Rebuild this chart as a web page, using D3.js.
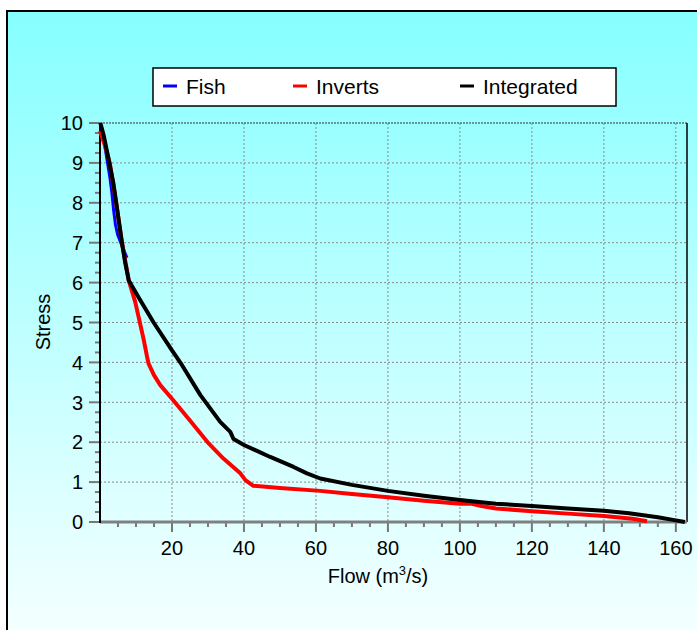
<!DOCTYPE html>
<html>
<head>
<meta charset="utf-8">
<script src="https://cdn.jsdelivr.net/npm/d3@7"></script>
<style>
    body { margin: 0; background: #fff; }
    text { font-family: Arial, "Liberation Sans", sans-serif; fill: #000; }
</style>
</head>
<body>
<div id="chart"></div>
<script>
// Stress vs flow curves (flow in m3/s, stress 0-10)
const fishFlow   = [0.3, 1.2, 2.1, 2.8, 3.3, 3.8, 4.3, 4.9, 6.2, 7.5];
const fishStress = [9.85, 9.5, 9.0, 8.6, 8.25, 7.8, 7.45, 7.2, 6.9, 6.62];

const invertsFlow   = [0, 1.5, 2.7, 4.5, 6.1, 8, 9.8, 12.1, 13.1, 13.5, 15, 16.75, 20, 24.6, 30.2, 34.3, 39, 40.4, 42.5, 50, 61.2,
                       70, 80, 90, 100, 103, 106, 110, 120, 130, 140, 148, 152];
const invertsStress = [9.8, 9.4, 9.0, 8.0, 7.0, 6.05, 5.51, 4.59, 4.13, 3.97, 3.68, 3.43, 3.09, 2.59, 1.97, 1.59, 1.22, 1.05, 0.91, 0.85, 0.78,
                       0.7, 0.62, 0.53, 0.46, 0.46, 0.4, 0.34, 0.27, 0.21, 0.15, 0.08, 0.02];

const integratedFlow   = [0.1, 1, 2.6, 3.7, 4.5, 5.3, 6.1, 7, 8, 11.2, 14.9, 20, 22.8, 27.9, 33.4, 36.2, 37.1, 40, 47.3, 53.8,
                          57.5, 61.2, 70, 80, 90, 100, 110, 120, 130, 140, 147, 155, 160, 162.5];
const integratedStress = [10, 9.7, 9.0, 8.5, 8.0, 7.5, 7.0, 6.5, 6.05, 5.56, 5.0, 4.3, 3.93, 3.18, 2.51, 2.26, 2.08, 1.93, 1.63, 1.38,
                          1.22, 1.09, 0.93, 0.78, 0.66, 0.55, 0.46, 0.4, 0.34, 0.28, 0.22, 0.12, 0.04, 0];

const seriesNames  = ['Fish', 'Inverts', 'Integrated'];
const seriesColors = ['#0000ff', '#ff0000', '#000000'];

const xTicks = [20, 40, 60, 80, 100, 120, 140, 160];
const yTicks = [0, 1, 2, 3, 4, 5, 6, 7, 8, 9, 10];

class StressVis {
    constructor(parentElement) {
        this.parentElement = parentElement;
        this.initVis();
    }

    initVis() {
        let vis = this;

        const width = 697;
        const height = 630;

        vis.svg = d3.select('#' + vis.parentElement)
            .append('svg')
            .attr('width', width)
            .attr('height', height);

        // background gradient
        let grad = vis.svg.append('defs').append('linearGradient')
            .attr('id', 'bg').attr('x1', 0).attr('y1', 0).attr('x2', 0).attr('y2', 1);
        grad.append('stop').attr('offset', '0%').attr('stop-color', '#86ffff');
        grad.append('stop').attr('offset', '100%').attr('stop-color', '#f8ffff');

        vis.svg.append('rect')
            .attr('x', 7).attr('y', 11)
            .attr('width', 700).attr('height', 640)
            .attr('fill', 'url(#bg)')
            .attr('stroke', '#000')
            .attr('stroke-width', 2);

        // plot area
        vis.left = 100; vis.right = 687; vis.top = 123; vis.bottom = 522;

        vis.x = d3.scaleLinear().domain([0, 163.1]).range([vis.left, vis.right]);
        vis.y = d3.scaleLinear().domain([0, 10]).range([vis.bottom, vis.top]);

        // gridlines
        vis.svg.append('g').selectAll('line')
            .data(xTicks).join('line')
            .attr('x1', d => vis.x(d)).attr('x2', d => vis.x(d))
            .attr('y1', vis.top).attr('y2', vis.bottom)
            .attr('stroke', '#8a8a8a').attr('stroke-width', 1)
            .attr('stroke-dasharray', '2,2');

        vis.svg.append('g').selectAll('line')
            .data(yTicks.filter(d => d > 0 && d < 10)).join('line')
            .attr('x1', vis.left).attr('x2', vis.right)
            .attr('y1', d => vis.y(d)).attr('y2', d => vis.y(d))
            .attr('stroke', '#8a8a8a').attr('stroke-width', 1)
            .attr('stroke-dasharray', '2,2');

        // top (dotted) and right borders
        vis.svg.append('line')
            .attr('x1', vis.left).attr('x2', vis.right)
            .attr('y1', vis.top).attr('y2', vis.top)
            .attr('stroke', '#333').attr('stroke-width', 1.2)
            .attr('stroke-dasharray', '2,1');
        vis.svg.append('line')
            .attr('x1', vis.right).attr('x2', vis.right)
            .attr('y1', vis.top).attr('y2', vis.bottom)
            .attr('stroke', '#000').attr('stroke-width', 1.5);

        // y axis ticks (major + minor)
        let yMinor = d3.range(0, 10.01, 0.25).filter(d => d % 1 !== 0);
        vis.svg.append('g').selectAll('line')
            .data(yMinor).join('line')
            .attr('x1', vis.left - 5).attr('x2', vis.left)
            .attr('y1', d => vis.y(d)).attr('y2', d => vis.y(d))
            .attr('stroke', '#777').attr('stroke-width', 2);
        vis.svg.append('g').selectAll('line')
            .data(yTicks).join('line')
            .attr('x1', vis.left - 11).attr('x2', vis.left)
            .attr('y1', d => vis.y(d)).attr('y2', d => vis.y(d))
            .attr('stroke', '#777').attr('stroke-width', 2);
        vis.svg.append('g').selectAll('text')
            .data(yTicks).join('text')
            .attr('x', 83)
            .attr('y', d => vis.y(d))
            .attr('dy', '0.36em')
            .attr('text-anchor', 'end')
            .style('font-size', '20px')
            .text(d => d);

        // x axis ticks
        let xMinor = d3.range(5, 163, 5).filter(d => d % 20 !== 0);
        vis.svg.append('g').selectAll('line')
            .data(xMinor).join('line')
            .attr('x1', d => vis.x(d)).attr('x2', d => vis.x(d))
            .attr('y1', vis.bottom).attr('y2', vis.bottom + 5)
            .attr('stroke', '#777').attr('stroke-width', 2);
        vis.svg.append('g').selectAll('line')
            .data(xTicks).join('line')
            .attr('x1', d => vis.x(d)).attr('x2', d => vis.x(d))
            .attr('y1', vis.bottom).attr('y2', vis.bottom + 10)
            .attr('stroke', '#777').attr('stroke-width', 2);
        vis.svg.append('g').selectAll('text')
            .data(xTicks).join('text')
            .attr('x', d => vis.x(d))
            .attr('y', 555)
            .attr('text-anchor', 'middle')
            .style('font-size', '20px')
            .text(d => d);

        // axis lines
        vis.svg.append('line')
            .attr('x1', vis.left).attr('x2', vis.right)
            .attr('y1', vis.bottom).attr('y2', vis.bottom)
            .attr('stroke', '#808080').attr('stroke-width', 3);
        vis.svg.append('line')
            .attr('x1', vis.left).attr('x2', vis.left)
            .attr('y1', vis.top).attr('y2', vis.bottom + 1)
            .attr('stroke', '#000').attr('stroke-width', 2);

        // axis titles
        vis.svg.append('text')
            .attr('transform', 'translate(50,322) rotate(-90)')
            .attr('text-anchor', 'middle')
            .style('font-size', '20px')
            .text('Stress');

        let xt = vis.svg.append('text')
            .attr('x', 378).attr('y', 583)
            .attr('text-anchor', 'middle')
            .style('font-size', '20px');
        xt.append('tspan').text('Flow (m');
        xt.append('tspan').attr('dy', -8).style('font-size', '13px').text('3');
        xt.append('tspan').attr('dy', 8).text('/s)');

        vis.wrangleData();
    }

    wrangleData() {
        let vis = this;
        const zip = (xs, ys) => xs.map((v, i) => ({ flow: v, stress: ys[i] }));
        vis.displayData = [
            { name: seriesNames[0], color: seriesColors[0], width: 3, values: zip(fishFlow, fishStress) },
            { name: seriesNames[1], color: seriesColors[1], width: 4, values: zip(invertsFlow, invertsStress) },
            { name: seriesNames[2], color: seriesColors[2], width: 4, values: zip(integratedFlow, integratedStress) }
        ];
        vis.updateVis();
    }

    updateVis() {
        let vis = this;

        let line = d3.line()
            .x(d => vis.x(d.flow))
            .y(d => vis.y(d.stress));

        vis.svg.append('g').selectAll('path')
            .data(vis.displayData).join('path')
            .attr('d', d => line(d.values))
            .attr('fill', 'none')
            .attr('stroke', d => d.color)
            .attr('stroke-width', d => d.width)
            .attr('stroke-linejoin', 'round');

        // legend
        let lg = vis.svg.append('g');
        lg.append('rect')
            .attr('x', 153).attr('y', 68)
            .attr('width', 463).attr('height', 38)
            .attr('fill', '#fff')
            .attr('stroke', '#000').attr('stroke-width', 1.5);

        const legendX = [163, 293, 460];
        let item = lg.selectAll('g.item')
            .data(vis.displayData).join('g')
            .attr('class', 'item')
            .attr('transform', (d, i) => `translate(${legendX[i]}, 86)`);
        item.append('line')
            .attr('x1', 0).attr('x2', 14)
            .attr('stroke', d => d.color).attr('stroke-width', 3);
        item.append('text')
            .attr('x', 23).attr('y', 7.5)
            .style('font-size', '21px')
            .text(d => d.name);
    }
}

new StressVis('chart');
</script>
</body>
</html>
